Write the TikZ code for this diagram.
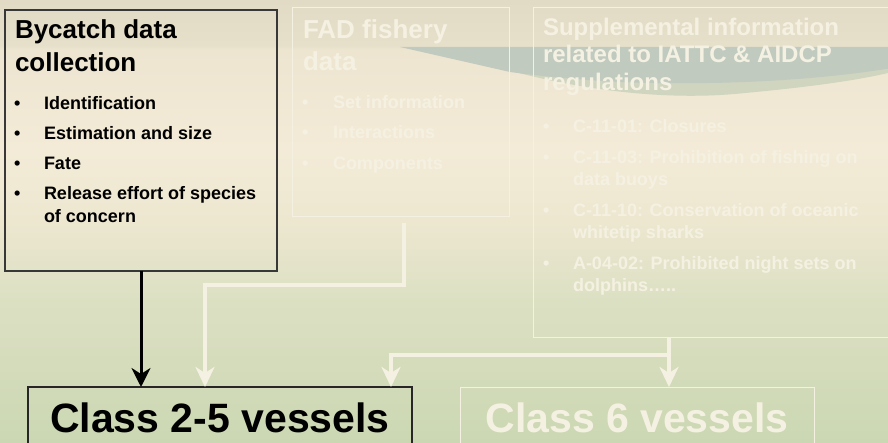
\documentclass[tikz,border=0pt]{standalone}
\usepackage{fontspec}
\setmainfont{Liberation Sans}
\usetikzlibrary{arrows.meta}
\definecolor{bgA}{HTML}{CBD7B2}
\definecolor{bgB}{HTML}{DCE0C3}
\definecolor{bgC}{HTML}{EDE7D0}
\definecolor{bgD}{HTML}{F3EBD7}
\definecolor{bgE}{HTML}{EDE5D0}
\definecolor{bgF}{HTML}{E6DFC9}
\definecolor{bgG}{HTML}{E1DAC4}
\definecolor{faint}{HTML}{F5F1E2}
\definecolor{waveteal}{HTML}{C0CABF}
\definecolor{wavegreen}{HTML}{D0D5BF}
\definecolor{darkline}{HTML}{383838}
\pgfdeclareverticalshading{bgshade}{100bp}{color(0bp)=(bgA); color(25bp)=(bgA); color(41.14bp)=(bgB); color(50.13bp)=(bgC); color(58.07bp)=(bgD); color(69.36bp)=(bgE); color(69.92bp)=(bgF); color(75bp)=(bgG); color(100bp)=(bgG)}
\tikzset{
  boxdark/.style={draw=darkline, line width=1.3pt, inner sep=0pt, outer sep=0pt, anchor=north west},
  boxfaint/.style={draw=faint, line width=1pt, inner sep=0pt, outer sep=0pt, anchor=north west},
  txt/.style={anchor=base west, inner sep=0pt, outer sep=0pt, font=\bfseries\fontsize{18}{22}\selectfont},
  ttl/.style={anchor=base west, inner sep=0pt, outer sep=0pt, font=\bfseries\fontsize{26}{31}\selectfont},
  ttls/.style={anchor=base west, inner sep=0pt, outer sep=0pt, font=\bfseries\fontsize{24}{29}\selectfont},
  big/.style={anchor=base, inner sep=0pt, outer sep=0pt, font=\bfseries\fontsize{41}{48}\selectfont},
  blackarrow/.style={draw=black, line width=3pt, -{Stealth[length=19pt,width=19pt,inset=6pt]}},
  whitearrow/.style={draw=faint, line width=4pt, line join=miter, -{Stealth[length=20pt,width=19pt,inset=6pt]}},
  whiteline/.style={draw=faint, line width=4pt, line join=miter}
}
\begin{document}
\begin{tikzpicture}[x=1pt, y=-1pt]
\useasboundingbox (0,0) rectangle (888,443);
\shade[shading=bgshade] (0,0) rectangle (888,443);
% decorative wave
\fill[wavegreen] (515,72) .. controls (600,94) and (680,100) .. (745,93) .. controls (810,87) and (860,80) .. (892,72) -- (892,55) -- (515,55) -- cycle;
\fill[waveteal] (400,47) -- (892,47) -- (892,68) .. controls (820,80) and (720,86) .. (620,82) .. controls (580,80) and (540,76) .. (510,72) -- cycle;

% boxes
\node[boxdark, minimum width=272pt, minimum height=261pt] (by) at (5,10) {};
\node[boxfaint, minimum width=217pt, minimum height=209pt] (fad) at (292,8) {};
\node[boxfaint, minimum width=359pt, minimum height=329pt] (supp) at (533,8) {};
\node[boxdark, line width=1.2pt, draw=black!85, minimum width=384pt, minimum height=80pt] (c25) at (28,387) {};
\node[boxfaint, minimum width=354pt, minimum height=80pt] (c6) at (460,387) {};

% Bycatch box text
\node[ttl] (byt1) at (15,39) {Bycatch data};
\node[ttl] (byt2) at (15,72) {collection};
\node[txt] (byb1) at (14,110) {•};
\node[txt] (byi1) at (44,110) {Identification};
\node[txt] (byb2) at (14,140) {•};
\node[txt] (byi2) at (44,140) {Estimation and size};
\node[txt] (byb3) at (14,170) {•};
\node[txt] (byi3) at (44,170) {Fate};
\node[txt] (byb4) at (14,200) {•};
\node[txt] (byi4) at (44,200) {Release effort of species};
\node[txt] (byi4b) at (44,223) {of concern};

% FAD box text
\node[ttl, text=faint] (fadt1) at (303,39) {FAD fishery};
\node[ttl, text=faint] (fadt2) at (303,71) {data};
\node[txt, text=faint] (fadb1) at (302,109) {•};
\node[txt, text=faint] (fadi1) at (333,109) {Set information};
\node[txt, text=faint] (fadb2) at (302,139) {•};
\node[txt, text=faint] (fadi2) at (333,139) {Interactions};
\node[txt, text=faint] (fadb3) at (302,170) {•};
\node[txt, text=faint] (fadi3) at (333,170) {Components};

% Supplemental box text
\node[ttls, text=faint] (supt1) at (543,36) {Supplemental information};
\node[ttls, text=faint] (supt2) at (543,63) {related to IATTC \& AIDCP};
\node[ttls, text=faint] (supt3) at (543,91) {regulations};
\node[txt, text=faint] (supb1) at (543,133) {•};
\node[txt, text=faint] (supi1) at (573,133) {C-11-01: Closures};
\node[txt, text=faint] (supb2) at (543,164) {•};
\node[txt, text=faint] (supi2) at (573,164) {C-11-03: Prohibition of fishing on};
\node[txt, text=faint] (supi2b) at (573,186) {data buoys};
\node[txt, text=faint] (supb3) at (543,217) {•};
\node[txt, text=faint] (supi3) at (573,217) {C-11-10: Conservation of oceanic};
\node[txt, text=faint] (supi3b) at (573,239) {whitetip sharks};
\node[txt, text=faint] (supb4) at (543,270) {•};
\node[txt, text=faint] (supi4) at (573,270) {A-04-02: Prohibited night sets on};
\node[txt, text=faint] (supi4b) at (573,292) {dolphins….. };

% bottom labels
\node[big] (c25t) at (220,432) {Class 2-5 vessels};
\node[big, text=faint] (c6t) at (637,432) {Class 6 vessels};

% connectors
\coordinate (fadout) at (404,223);
\coordinate (j1) at (205,285);
\coordinate (suppout) at (669,337);
\coordinate (j2) at (669,355);
\coordinate (j3) at (391,355);
\draw[blackarrow] (by.south) -- (by.south |- c25.north);
\draw[whitearrow] (fadout) |- (j1) -- (j1 |- c25.north);
\draw[whitearrow] (suppout) -- (suppout |- c6.north);
\draw[whitearrow] (j2) -- (j3) -- (j3 |- c25.north);
\end{tikzpicture}
\end{document}
